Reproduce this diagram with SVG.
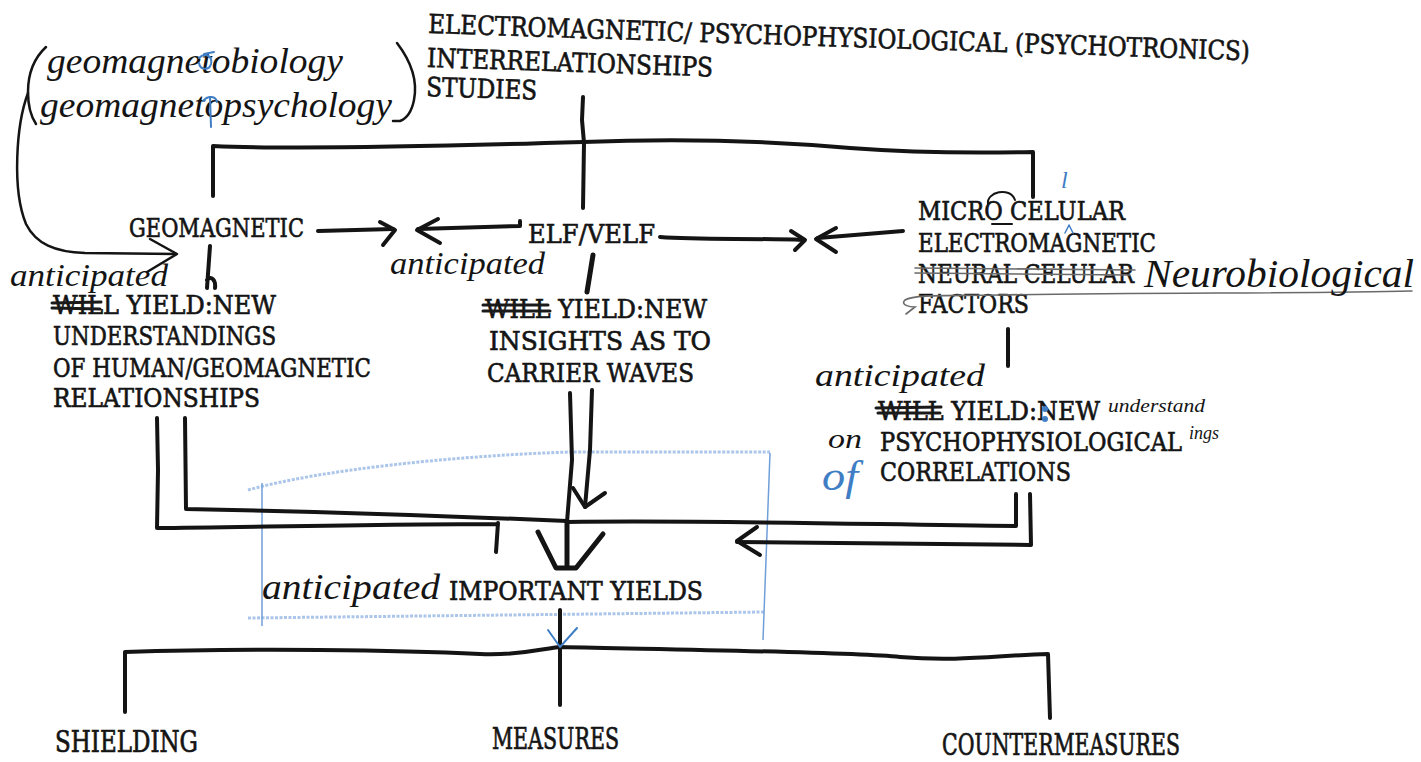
<svg xmlns="http://www.w3.org/2000/svg" width="1421" height="762" viewBox="0 0 1421 762">
  <defs>
    <style>
      .t { font-family: "DejaVu Serif", "Liberation Serif", serif; font-size: 22px; fill: #141414; stroke: #141414; stroke-width: 0.55; }
      .hw { font-family: "Liberation Serif", "Times New Roman", serif; font-style: italic; fill: #141414; }
      .hwb { font-family: "Liberation Serif", "Times New Roman", serif; font-style: italic; fill: #3f7dc4; }
      .ink { fill: none; stroke: #141414; stroke-width: 4; stroke-linecap: round; stroke-linejoin: round; }
      .thin { fill: none; stroke: #141414; stroke-width: 2; stroke-linecap: round; stroke-linejoin: round; }
      .strike { fill: none; stroke: #1a1a1a; stroke-width: 3; stroke-linecap: round; }
      .pencil { fill: none; stroke: #6a6a6a; stroke-width: 1.6; stroke-linecap: round; }
      .bluepen { fill: none; stroke: #3f7dc4; stroke-width: 2; stroke-linecap: round; stroke-linejoin: round; }
      .bluebox { fill: none; stroke: #6f9fd8; stroke-width: 1.5; }
      .bluecrayon { fill: none; stroke: #8fb3e3; stroke-width: 3; stroke-dasharray: 3 1.5; opacity: 0.75; }
    </style>
  </defs>

  <rect width="1421" height="762" fill="#ffffff"/>

  <!-- light blue outline drawn around the yields box -->
  <g id="blue-outline">
    <path class="bluecrayon" d="M248,490 C320,470 450,456 570,452 L770,452"/>
    <path class="bluecrayon" d="M248,618 L765,612"/>
    <path class="bluebox" d="M262,483 L262,626"/>
    <path class="bluebox" d="M770,453 L763,640"/>
  </g>

  <!-- connectors -->
  <g id="connectors">
    <!-- studies trunk and top bracket -->
    <path class="ink" d="M583,97 L582,120 L584,143 L583,208"/>
    <path class="ink" d="M213,196 L213,146 C300,150 450,146 583,142 C680,138 760,140 850,148 C930,154 990,153 1033,152 L1033,197"/>
    <!-- curved arrow from the handwritten note to geomagnetic -->
    <path class="thin" style="stroke-width:2.5" d="M28,93 C16,125 12,190 26,224 C36,244 55,252 85,253 L176,254"/>
    <path class="thin" style="stroke-width:2.5" d="M150,239 L177,254 L147,272"/>
    <!-- geomagnetic -> -->
    <path class="ink" d="M318,231 L393,229"/>
    <path class="ink" d="M380,222 L395,230 L383,245"/>
    <!-- <- elf/velf -->
    <path class="ink" d="M520,221 L520,226 L418,229"/>
    <path class="ink" d="M438,219 L417,230 L440,243"/>
    <!-- elf/velf -> -->
    <path class="ink" d="M660,237 C700,240 750,238 803,240"/>
    <path class="ink" d="M791,231 L805,240 L795,250"/>
    <!-- <- micro cellular -->
    <path class="ink" d="M903,231 L818,238"/>
    <path class="ink" d="M836,228 L816,239 L836,252"/>
    <!-- short drops to the yield texts -->
    <path class="ink" d="M210,246 L207,288 M207,280 C211,275 216,280 215,288"/>
    <path class="ink" style="stroke-width:5" d="M593,255 L587,292"/>
    <path class="ink" d="M1008,329 L1008,366"/>
    <!-- left pair into the junction -->
    <path class="ink" d="M157,418 L158,470 L157,528 C250,527 400,524 498,524 M498,523 L496,552"/>
    <path class="ink" d="M185,418 L186,509 C300,511 450,516 567,521"/>
    <!-- centre pair -->
    <path class="ink" d="M570,393 L572,460 L567,522"/>
    <path class="ink" d="M592,390 L590,450 L585,507"/>
    <path class="ink" d="M573,488 L585,507 L605,493"/>
    <!-- right pair -->
    <path class="ink" d="M567,522 C700,520 850,524 1016,526 L1016,494"/>
    <path class="ink" d="M1030,494 L1031,545 C900,543 800,542 737,542"/>
    <path class="ink" d="M757,527 L737,541 L760,555"/>
    <!-- heavy arrowhead into important yields -->
    <path class="ink" style="stroke-width:5" d="M567,522 L567,568 M538,532 L556,568 L576,568 L603,534"/>
    <!-- lower bracket -->
    <path class="ink" d="M560,610 L560,705"/>
    <path class="ink" d="M125,712 L125,652 C250,648 400,650 480,654 C520,656 545,648 560,647 C700,650 850,652 900,657 C960,662 1000,655 1048,654 L1050,718"/>
  </g>

  <!-- handwritten note -->
  <g id="note-geomagneto">
    <text class="hw" x="47" y="73" font-size="36" textLength="296" lengthAdjust="spacingAndGlyphs">geomagnetobiology</text>
    <text class="hw" x="40" y="117" font-size="36" textLength="352" lengthAdjust="spacingAndGlyphs">geomagnetopsychology</text>
    <path class="thin" style="stroke-width:2.5" d="M46,47 C32,60 28,78 28,92 C28,105 30,115 36,124"/>
    <path class="thin" style="stroke-width:2.5" d="M397,43 C410,60 418,80 414,100 C412,110 408,118 400,121 L393,121"/>
    <path class="bluepen" d="M199,58 C205,52 213,56 211,64 C209,71 200,70 199,63 M204,54 L214,52"/>
    <path class="bluepen" d="M210,97 L211,127 M203,101 C208,95 216,96 217,102"/>
  </g>

  <!-- top heading -->
  <g id="studies" transform="rotate(1.9 428 33)">
    <text class="t" transform="translate(428 33) scale(1 1.2)" textLength="822" lengthAdjust="spacingAndGlyphs">ELECTROMAGNETIC/ PSYCHOPHYSIOLOGICAL (PSYCHOTRONICS)</text>
    <text class="t" transform="translate(428 67) scale(1 1.2)" textLength="286" lengthAdjust="spacingAndGlyphs">INTERRELATIONSHIPS</text>
    <text class="t" transform="translate(428 96) scale(1 1.2)" textLength="111" lengthAdjust="spacingAndGlyphs">STUDIES</text>
  </g>

  <g id="geomagnetic">
    <text class="t" transform="translate(129 237) scale(1 1.2)" textLength="175" lengthAdjust="spacingAndGlyphs">GEOMAGNETIC</text>
  </g>

  <g id="elf-velf">
    <text class="t" transform="translate(528 243) scale(1 1.2)" textLength="127" lengthAdjust="spacingAndGlyphs">ELF/VELF</text>
  </g>

  <g id="micro-cellular">
    <text class="t" transform="translate(918 220) scale(1 1.2)" textLength="207" lengthAdjust="spacingAndGlyphs">MICRO CELULAR</text>
    <text class="t" transform="translate(918 252) scale(1 1.2)" textLength="238" lengthAdjust="spacingAndGlyphs">ELECTROMAGNETIC</text>
    <text class="t" transform="translate(918 283) scale(1 1.2)" textLength="216" lengthAdjust="spacingAndGlyphs">NEURAL CELULAR</text>
    <text class="t" transform="translate(918 313) scale(1 1.2)" textLength="111" lengthAdjust="spacingAndGlyphs">FACTORS</text>
    <path class="thin" d="M988,204 C986,192 1010,186 1015,200"/>
    <path class="thin" d="M992,224 L1012,224"/>
    <path class="pencil" d="M915,268 L1135,270 M915,273 L1130,275"/>
    <path class="pencil" d="M1412,291 C1300,294 1150,292 1000,295 C950,296 915,294 905,300 C900,305 910,307 915,307 L906,314"/>
    <text class="hw" x="1144" y="287" font-size="40" textLength="270" lengthAdjust="spacingAndGlyphs">Neurobiological</text>
    <text class="hwb" x="1061" y="188" font-size="24">l</text>
    <path class="bluepen" style="stroke-width:1.5" d="M1065,233 L1069,225 L1073,233"/>
  </g>

  <g id="geo-yield">
    <text class="hw" x="10" y="286" font-size="32" textLength="158" lengthAdjust="spacingAndGlyphs">anticipated</text>
    <text class="t" transform="translate(53 314) scale(1 1.2)" textLength="223" lengthAdjust="spacingAndGlyphs">WILL YIELD:NEW</text>
    <path class="strike" d="M52,303 L101,302 M52,308 L100,309"/>
    <text class="t" transform="translate(53 345) scale(1 1.2)" textLength="223" lengthAdjust="spacingAndGlyphs">UNDERSTANDINGS</text>
    <text class="t" transform="translate(53 377) scale(1 1.2)" textLength="318" lengthAdjust="spacingAndGlyphs">OF HUMAN/GEOMAGNETIC</text>
    <text class="t" transform="translate(53 407) scale(1 1.2)" textLength="207" lengthAdjust="spacingAndGlyphs">RELATIONSHIPS</text>
  </g>

  <g id="elf-yield">
    <text class="hw" x="390" y="274" font-size="32" textLength="155" lengthAdjust="spacingAndGlyphs">anticipated</text>
    <text class="t" transform="translate(485 318) scale(1 1.2)" textLength="222" lengthAdjust="spacingAndGlyphs">WILL YIELD:NEW</text>
    <path class="strike" d="M483,305 L548,305 M483,311 L550,311"/>
    <text class="t" transform="translate(489 350) scale(1 1.2)" textLength="222" lengthAdjust="spacingAndGlyphs">INSIGHTS AS TO</text>
    <text class="t" transform="translate(487 382) scale(1 1.2)" textLength="207" lengthAdjust="spacingAndGlyphs">CARRIER WAVES</text>
  </g>

  <g id="micro-yield">
    <text class="hw" x="815" y="386" font-size="32" textLength="170" lengthAdjust="spacingAndGlyphs">anticipated</text>
    <text class="t" transform="translate(878 420) scale(1 1.2)" textLength="222" lengthAdjust="spacingAndGlyphs">WILL YIELD:NEW</text>
    <path class="strike" d="M876,408 L941,407 M878,413 L940,413"/>
    <circle cx="1045" cy="409" r="3" fill="#3f7dc4"/>
    <circle cx="1045" cy="419" r="3" fill="#3f7dc4"/>
    <text class="hw" x="1108" y="412" font-size="19" textLength="97" lengthAdjust="spacingAndGlyphs">understand</text>
    <text class="hw" x="1189" y="439" font-size="19" textLength="30" lengthAdjust="spacingAndGlyphs">ings</text>
    <text class="hw" x="828" y="448" font-size="28" textLength="34" lengthAdjust="spacingAndGlyphs">on</text>
    <text class="t" transform="translate(880 451) scale(1 1.2)" textLength="302" lengthAdjust="spacingAndGlyphs">PSYCHOPHYSIOLOGICAL</text>
    <text class="hwb" x="822" y="490" font-size="42" textLength="36" lengthAdjust="spacingAndGlyphs">of</text>
    <text class="t" transform="translate(880 481) scale(1 1.2)" textLength="191" lengthAdjust="spacingAndGlyphs">CORRELATIONS</text>
  </g>

  <g id="important-yields">
    <text class="hw" x="262" y="599" font-size="36" textLength="178" lengthAdjust="spacingAndGlyphs">anticipated</text>
    <text class="t" transform="translate(449 600) scale(1 1.2)" textLength="254" lengthAdjust="spacingAndGlyphs">IMPORTANT YIELDS</text>
    <path class="bluepen" d="M548,630 L560,647 L577,628"/>
  </g>

  <g id="shielding">
    <text class="t" transform="translate(55 752) scale(1 1.32)" textLength="143" lengthAdjust="spacingAndGlyphs">SHIELDING</text>
  </g>
  <g id="measures">
    <text class="t" transform="translate(492 749) scale(1 1.32)" textLength="127" lengthAdjust="spacingAndGlyphs">MEASURES</text>
  </g>
  <g id="countermeasures">
    <text class="t" transform="translate(942 755) scale(1 1.32)" textLength="238" lengthAdjust="spacingAndGlyphs">COUNTERMEASURES</text>
  </g>
</svg>
